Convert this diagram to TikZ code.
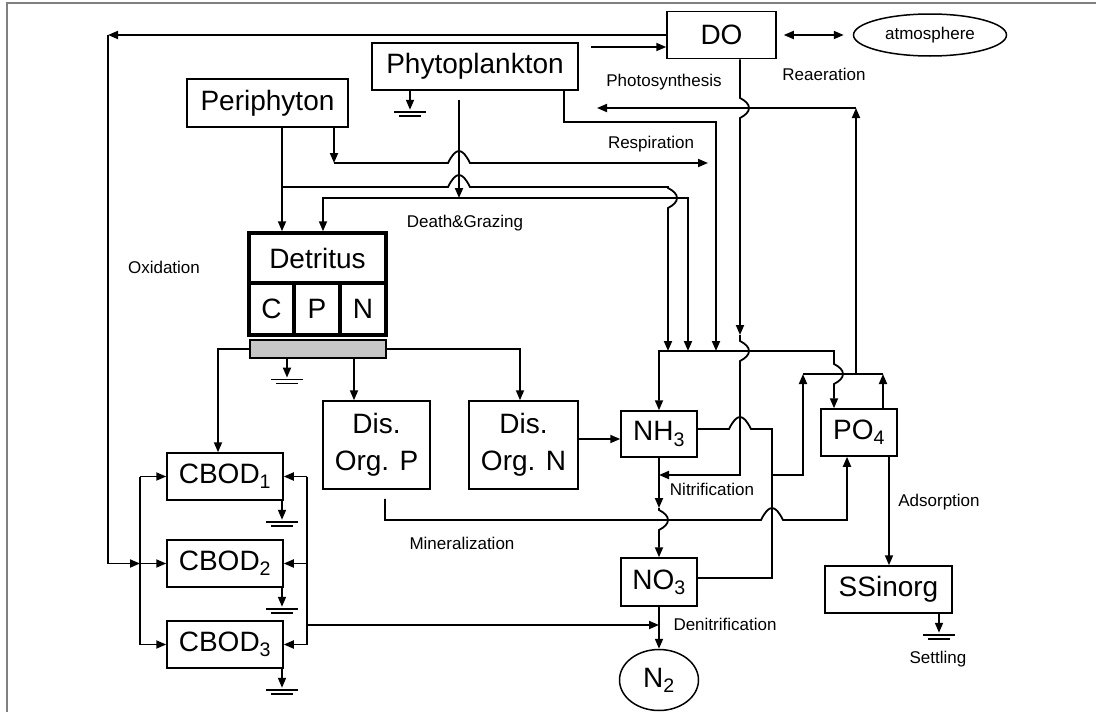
\documentclass[tikz,border=0pt]{standalone}
\usepackage{fontspec}
\setmainfont{Liberation Sans}
\usepackage{tikz}
\usetikzlibrary{arrows.meta,shapes}
\newcommand{\boxfont}{\fontsize{28}{37}\selectfont}
\newcommand{\notefont}{\fontsize{17}{20}\selectfont}
\newcommand{\hop}[2]{-- (#1-11,#2) .. controls (#1-3,#2-16) and (#1+3,#2-16) .. (#1+11,#2)}
\newcommand{\wave}[2]{-- (#1,#2-10) .. controls (#1+12,#2-4) and (#1+12,#2+4) .. (#1,#2+10)}
\tikzstyle{box}=[draw,line width=1.5pt,inner sep=0pt,font=\boxfont]
\tikzstyle{detritus box}=[draw,line width=3.5pt,inner sep=0pt,font=\boxfont]
\tikzstyle{oval}=[draw,ellipse,line width=1.5pt,inner sep=0pt]
\tikzstyle{note}=[inner sep=0pt,font=\notefont]
\tikzstyle{edge}=[draw,line width=1.8pt,-]
\tikzset{ground/.pic={
  \draw[edge,->] (0,0) -- (0,19);
  \draw[line width=1.5pt] (-16,21) -- (16,21);
  \draw[line width=1.5pt] (-11,25) -- (11,25);
}}

\begin{document}
\begin{tikzpicture}[x=1pt,y=-1pt,>={Triangle[length=10pt,width=8pt]}]
        \useasboundingbox (0,0) rectangle (1096,712);
        \draw[gray,line width=1.2pt] (7,712) -- (7,3) -- (1096,3);
        % compartments
        \node[box,minimum width=206pt,minimum height=47pt] (phyto) at (475,66.5) {Phytoplankton};
        \node[box,minimum width=161pt,minimum height=48pt] (peri) at (267.5,103) {Periphyton};
        \node[box,minimum width=109pt,minimum height=47pt] (do) at (721.5,35) {DO};
        \node[oval,minimum width=153pt,minimum height=42pt,font=\notefont] (atm) at (930,35) {atmosphere};
        \node[detritus box,minimum width=137pt,minimum height=50pt] (detr) at (317.5,258) {Detritus};
        \node[detritus box,minimum width=45pt,minimum height=52pt] (detc) at (271.5,309) {C};
        \node[detritus box,minimum width=46pt,minimum height=52pt] (detp) at (317,309) {P};
        \node[detritus box,minimum width=46pt,minimum height=52pt] (detn) at (363,309) {N};
        \node[draw,fill=gray!45,line width=1.2pt,minimum width=136pt,minimum height=18pt,inner sep=0pt] (bar) at (318,349) {};
        \node[box,align=center,minimum width=107pt,minimum height=88pt] (disp) at (376.5,445) {Dis.\\Org. P};
        \node[box,align=center,minimum width=109pt,minimum height=88pt] (disn) at (523.5,445) {Dis.\\Org. N};
        \node[box,minimum width=76pt,minimum height=46pt] (nh3) at (659,434) {NH\textsubscript{3}};
        \node[box,minimum width=76pt,minimum height=47pt] (po4) at (859,432.5) {PO\textsubscript{4}};
        \node[box,minimum width=76pt,minimum height=48pt] (no3) at (659,582) {NO\textsubscript{3}};
        \node[oval,minimum width=79pt,minimum height=61pt,font=\boxfont] (n2) at (659,680) {N\textsubscript{2}};
        \node[box,minimum width=127pt,minimum height=47pt] (ssin) at (888.5,589.5) {SSinorg};
        \foreach \i/\y in {1/476.5,2/563.5,3/644.5}
          \node[box,minimum width=116pt,minimum height=47pt] (cbod\i) at (225,\y) {CBOD\textsubscript{\i}};
        % process names
        \node[note] (photo) at (664,82) {Photosynthesis};
        \node[note] (reaer) at (824,74) {Reaeration};
        \node[note] (resp) at (651,144) {Respiration};
        \node[note] (death) at (465,223) {Death\&Grazing};
        \node[note] (oxid) at (164,267) {Oxidation};
        \node[note] (nitri) at (712,489) {Nitrification};
        \node[note] (miner) at (462,543) {Mineralization};
        \node[note] (adsor) at (939,502) {Adsorption};
        \node[note] (denit) at (725,624) {Denitrification};
        \node[note] (settl) at (938,659) {Settling};
        % oxidation
        \draw[edge,->] (do.west) -- (108,35);
        \draw[edge,->] (108,35) -- (108,563.5) -- (140,563.5);
        \draw[edge] (140,476.5) -- (140,644.5);
        \draw[edge] (307,476.5) -- (307,644.5);
        \foreach \i in {1,2,3} {
          \draw[edge,->] (cbod\i.west -| 140,0) -- (cbod\i.west);
          \draw[edge,->] (cbod\i.east -| 307,0) -- (cbod\i.east);
          \pic at (cbod\i.south -| 282,0) {ground};
        }
        \draw[edge,->] (307,625) -- (n2.north |- 0,625);
        % detritus
        \draw[edge,->] (bar.west) -- (218,349) -- (cbod1.north -| 218,0);
        \draw[edge,->] (bar.south -| 354,0) -- (disp.north -| 354,0);
        \draw[edge,->] (bar.east) -- (520,349) -- (disn.north -| 520,0);
        \pic at (bar.south -| 287,0) {ground};
        % periphyton
        \draw[edge,->] (peri.south -| 282,0) -- (detr.north -| 282,0);
        \draw[edge,->] (peri.south -| 334,0) -- (334,163);
        \draw[edge,->] (334,163) \hop{459}{163} -- (708,163);
        \draw[edge,->] (282,187) \hop{459}{187} -- (668,187) \wave{668}{198} -- (668,351);
        % phytoplankton
        \pic at (phyto.south -| 410,0) {ground};
        \draw[edge,->,shorten <=9pt] (phyto.south -| 459,0) -- (459,198);
        \draw[edge,<->] (detr.north -| 323,0) -- (323,198) -- (688,198) -- (688,351);
        \draw[edge,->] (phyto.south -| 564,0) -- (564,122) -- (716,122) -- (716,351);
        \draw[edge,->,shorten <=12pt] (phyto.east |- 0,47) -- (do.west |- 0,47);
        % DO
        \draw[edge,<->,shorten <=7pt,shorten >=9pt] (do.east) -- (atm.west);
        \draw[edge,->] (do.south -| 740,0) \wave{740}{108} -- (740,335);
        \draw[edge,->] (740,335) \wave{740}{351} -- (740,475) -- (nh3.south |- 0,475);
        % nutrients
        \draw[edge,<->] (nh3.north) -- (nh3.north |- 0,351) -- (834,351) \wave{834}{374} -- (po4.north -| 834,0);
        \draw[edge,->] (po4.north -| 883,0) -- (883,374);
        \draw[edge,->] (772,475) -- (803,475) -- (803,374);
        \draw[edge] (803,374) -- (883,374);
        \draw[edge,->] (856,374) -- (856,108);
        \draw[edge,->] (856,108) -- (597,108);
        \draw[edge] (nh3.east |- 0,429) \hop{740}{429} -- (772,429) -- (772,578) -- (no3.east |- 0,578);
        \draw[edge,->] (nh3.south) -- (659,508);
        \draw[edge,->] (659,508) \wave{659}{520} -- (no3.north);
        \draw[edge,->,shorten <=9pt] (disp.south -| 385,0) -- (385,520) \hop{772}{520} -- (847,520) -- (po4.south -| 847,0);
        \draw[edge,->] (disn.east |- 0,439) -- (nh3.west |- 0,439);
        \draw[edge,->] (no3.south) -- (n2.north);
        \draw[edge,->] (po4.south -| 889,0) -- (ssin.north -| 889,0);
        \pic at (ssin.south -| 939,0) {ground};
      \end{tikzpicture}
\end{document}
